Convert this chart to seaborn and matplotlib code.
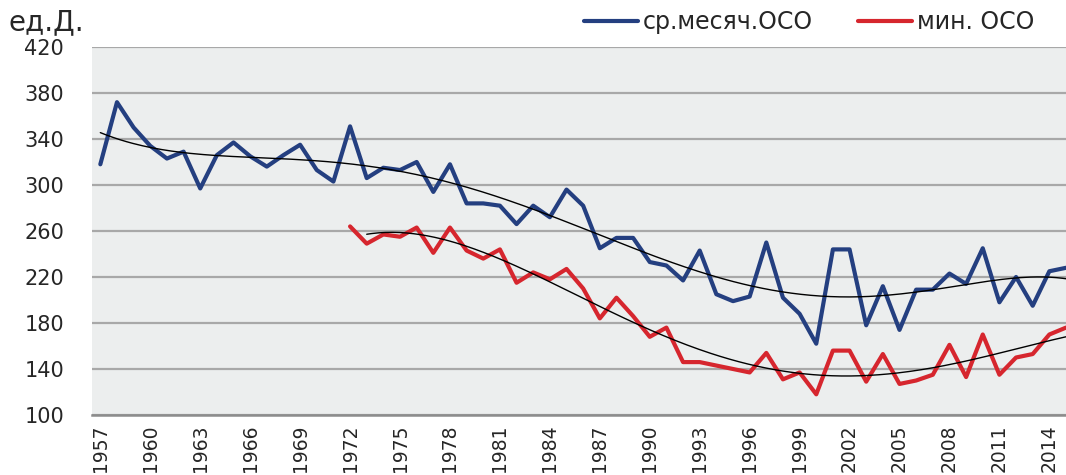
import numpy as np
import pandas as pd
import matplotlib
matplotlib.use("Agg")
import matplotlib.pyplot as plt
import seaborn as sns
from matplotlib.lines import Line2D

years_blue = list(range(1957, 2016))
blue_vals = [318, 372, 350, 334, 323, 329, 297, 326, 337, 325, 316, 326, 335, 313, 303,
             351, 306, 315, 313, 320, 294, 318, 284, 284, 282, 266, 282, 272, 296, 282,
             245, 254, 254, 233, 230, 217, 243, 205, 199, 203, 250, 202, 188, 162, 244,
             244, 178, 212, 174, 209, 209, 223, 214, 245, 198, 220, 195, 225, 228]
years_red = list(range(1972, 2016))
red_vals = [264, 249, 257, 255, 263, 241, 263, 243, 236, 244, 215, 224, 218, 227, 210,
            184, 202, 186, 168, 176, 146, 146, 143, 140, 137, 154, 131, 137, 118, 156,
            156, 129, 153, 127, 130, 135, 161, 133, 170, 135, 150, 153, 170, 176]
blue_label = "ср.месяч.ОСО"
red_label = "мин. ОСО"
y_label = "ед.Д."
y_ticks = list(range(100, 421, 40))
x_ticks = list(range(1957, 2015, 3))

BLUE = "#243f80"
RED = "#d6262e"
GRID = "#a8a8a8"
BG = "#eceeee"
TXT = "#262626"

sns.set_theme(style="white")
plt.rcParams['font.family'] = ['DejaVu Sans']

df_b = pd.DataFrame({"year": years_blue, "val": blue_vals})
df_r = pd.DataFrame({"year": years_red, "val": red_vals})

fig = plt.figure(figsize=(10.66, 4.75), dpi=100)
ax = fig.add_axes([92/1066, 1-415/475, 1-92/1066, (415-47)/475])
ax.set_facecolor(BG)

for yv in y_ticks:
    ax.axhline(yv, color=GRID, lw=1.6, zorder=1)

sns.lineplot(data=df_b, x="year", y="val", color=BLUE, lw=3.0, ax=ax, zorder=3)
sns.lineplot(data=df_r, x="year", y="val", color=RED, lw=3.0, ax=ax, zorder=3)

# polynomial trend lines
tb = (np.array(years_blue) - 1986) / 30.0
pb = np.polyfit(tb, blue_vals, 6)
xb = np.linspace(1957, 2015, 300)
ax.plot(xb, np.polyval(pb, (xb - 1986) / 30.0), color="black", lw=1.0, zorder=4)
tr = (np.array(years_red) - 1993) / 22.0
pr = np.polyfit(tr, red_vals, 4)
xr = np.linspace(1973, 2015, 300)
ax.plot(xr, np.polyval(pr, (xr - 1993) / 22.0), color="black", lw=1.0, zorder=4)

ax.set_xlim(1956.5, 2015.0)
ax.set_ylim(100, 420)
ax.set_yticks(y_ticks)
ax.set_xticks(x_ticks)
ax.set_xticklabels([str(x) for x in x_ticks], rotation=90, fontsize=13.5, color=TXT)
ax.set_yticklabels([str(y) for y in y_ticks], fontsize=15, color=TXT)
ax.tick_params(axis='y', length=0, pad=20)
ax.tick_params(axis='x', length=0, pad=7)
ax.set_xlabel("")
ax.set_ylabel("")
for s in ["top", "right", "left"]:
    ax.spines[s].set_visible(False)
ax.spines["bottom"].set_color("#8c8c8c")
ax.spines["bottom"].set_linewidth(1.8)
ax.spines["bottom"].set_zorder(2)

fig.text(8/1066, 1-22/475, y_label, fontsize=20, color=TXT, va="center", ha="left")

handles = [Line2D([0], [0], color=BLUE, lw=3), Line2D([0], [0], color=RED, lw=3)]
fig.legend(handles, [blue_label, red_label], loc="center right",
           bbox_to_anchor=(0.99, 1-22/475), ncol=2, frameon=False, fontsize=17,
           handlelength=2.3, handletextpad=0.2, columnspacing=1.9,
           labelcolor=TXT)

fig.savefig("out.png", dpi=100)
